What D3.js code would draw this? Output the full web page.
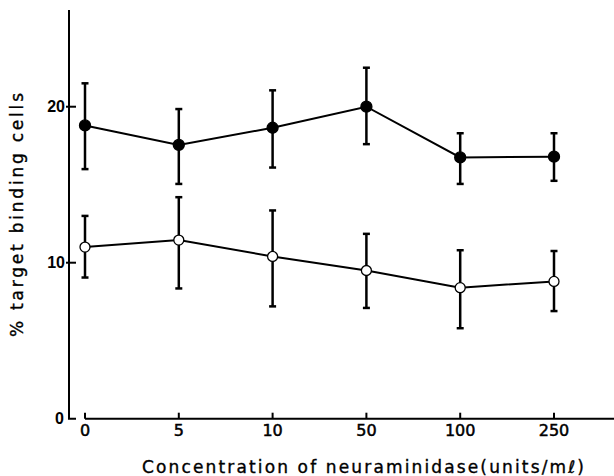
<!DOCTYPE html>
<html><head><meta charset="utf-8">
<script src="https://cdn.jsdelivr.net/npm/d3@7"></script>
<style>body{margin:0;background:#fff}svg{display:block}</style>
</head><body>
<svg id="c" width="614" height="476"></svg>
<script>
const categories = ["0", "5", "10", "50", "100", "250"];
const filledMean  = [18.8, 17.55, 18.65, 20.0, 16.75, 16.8];
const filledUpper = [21.5, 19.85, 21.05, 22.5, 18.3, 18.3];
const filledLower = [16.0, 15.05, 16.1, 17.6, 15.05, 15.25];
const openMean  = [11.0, 11.45, 10.4, 9.5, 8.4, 8.8];
const openUpper = [13.0, 14.2, 13.35, 11.85, 10.8, 10.75];
const openLower = [9.05, 8.35, 7.2, 7.1, 5.8, 6.9];
const yTicks = [0, 10, 20];
const xTitle = "Concentration of neuraminidase(units/m\u2113)";
const yTitle = "% target binding cells";

const svg = d3.select("#c");
const x = d3.scalePoint().domain(categories).range([85, 554]);
const y = d3.scaleLinear().domain([0, 26.2]).range([418.7, 10]);

// y axis
const ya = svg.append("g");
ya.append("path").attr("d", `M69,${y(26.2)}V${y(0)}H76`).attr("fill","none").attr("stroke","#000").attr("stroke-width",2);
yTicks.filter(t => t > 0).forEach(t => {
  ya.append("line").attr("x1",66).attr("x2",76).attr("y1",y(t)).attr("y2",y(t)).attr("stroke","#000").attr("stroke-width",2);
});
yTicks.forEach(t => {
  ya.append("text").attr("x", t === 0 ? 64 : 65).attr("y", y(t)).attr("dy","0.36em")
    .attr("text-anchor","end").attr("font-family","Liberation Sans").attr("font-weight","bold")
    .attr("font-size",16).text(t);
});

// x axis
const xa = svg.append("g");
xa.append("line").attr("x1",85).attr("x2",614).attr("y1",y(0)).attr("y2",y(0)).attr("stroke","#000").attr("stroke-width",2);
categories.forEach(c => {
  xa.append("line").attr("x1",x(c)).attr("x2",x(c)).attr("y1",y(0)).attr("y2",y(0)-6).attr("stroke","#000").attr("stroke-width",2);
  xa.append("text").attr("x",x(c)).attr("y",y(0)+17).attr("text-anchor","middle")
    .attr("font-family","DejaVu Sans").attr("font-size",16)
    .attr("stroke","#000").attr("stroke-width",0.5).text(c);
});

svg.append("text").attr("x",363).attr("y",473).attr("text-anchor","middle")
  .attr("font-family","DejaVu Sans").attr("font-size",17)
  .attr("stroke","#000").attr("stroke-width",0.35)
  .attr("textLength",442).attr("lengthAdjust","spacing").text(xTitle);
svg.append("text").attr("transform","translate(23,215) rotate(-90)").attr("text-anchor","middle")
  .attr("font-family","DejaVu Sans").attr("font-size",17)
  .attr("stroke","#000").attr("stroke-width",0.35)
  .attr("textLength",244).attr("lengthAdjust","spacing").text(yTitle);

function series(mean, upper, lower, fill) {
  const g = svg.append("g");
  categories.forEach((c,i) => {
    g.append("line").attr("x1",x(c)).attr("x2",x(c)).attr("y1",y(upper[i])).attr("y2",y(lower[i])).attr("stroke","#000").attr("stroke-width",2.5);
    [upper[i], lower[i]].forEach(v => {
      g.append("line").attr("x1",x(c)-3.5).attr("x2",x(c)+3.5).attr("y1",y(v)).attr("y2",y(v)).attr("stroke","#000").attr("stroke-width",2.5);
    });
  });
  g.append("path").datum(mean).attr("fill","none").attr("stroke","#000").attr("stroke-width",2)
    .attr("d", d3.line().x((d,i)=>x(categories[i])).y(d=>y(d)));
  g.selectAll("circle").data(mean).join("circle")
    .attr("cx",(d,i)=>x(categories[i])).attr("cy",d=>y(d)).attr("r",fill==="#000"?5.5:5)
    .attr("fill",fill).attr("stroke","#000").attr("stroke-width",1.3);
}
series(filledMean, filledUpper, filledLower, "#000");
series(openMean, openUpper, openLower, "#fff");
</script>
</body></html>
